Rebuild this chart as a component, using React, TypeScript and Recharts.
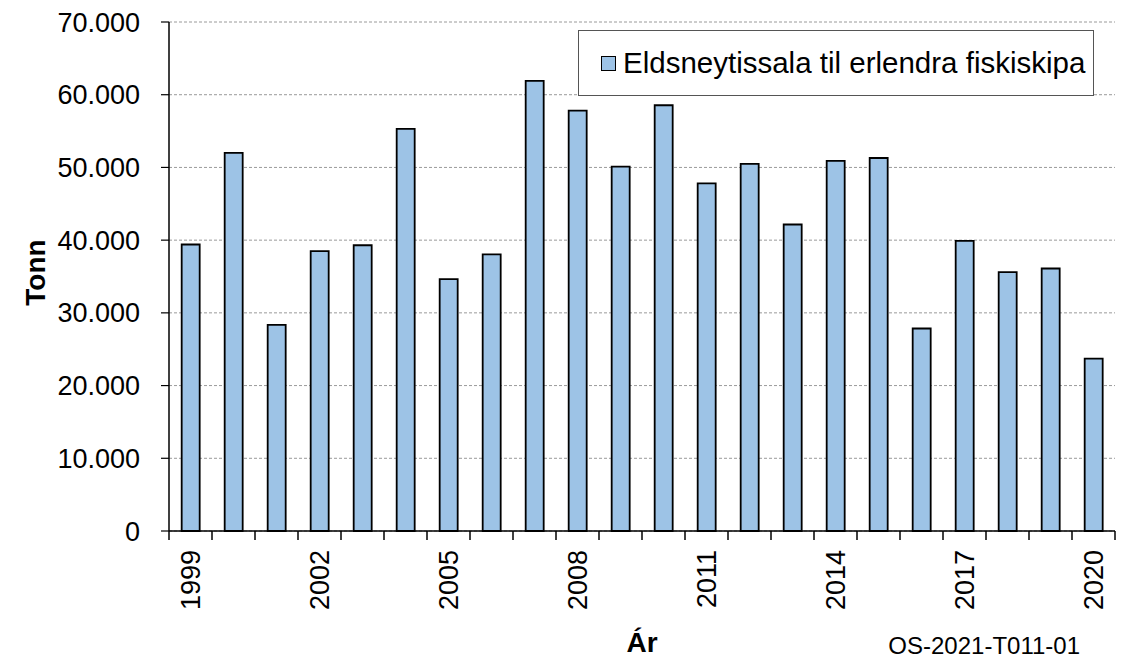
import { Bar, BarChart, CartesianGrid, XAxis, YAxis } from "recharts"

const FONT = "'Liberation Sans', Arial, Helvetica, sans-serif"

const years = [
  "1999", "2000", "2001", "2002", "2003", "2004", "2005", "2006", "2007", "2008", "2009",
  "2010", "2011", "2012", "2013", "2014", "2015", "2016", "2017", "2018", "2019", "2020",
]

const tonnes = [
  39400, 52000, 28350, 38500, 39300, 55300, 34650, 38050, 61900, 57800, 50100,
  58550, 47800, 50500, 42150, 50900, 51300, 27850, 39900, 35600, 36100, 23700,
]

const yTicks = [0, 10000, 20000, 30000, 40000, 50000, 60000, 70000]

const seriesName = "Eldsneytissala til erlendra fiskiskipa"
const xTitle = "Ár"
const yTitle = "Tonn"
const footnote = "OS-2021-T011-01"

const data = years.map((year, i) => ({ year, tonn: tonnes[i] }))

const fmt = (v: number) => String(v).replace(/\B(?=(\d{3})+(?!\d))/g, ".")

// tick marks sit between the categories, labels on every third year
function YearTick({ x, y, payload, index }: any) {
  const half = payload.offset || 0
  const showLabel = index % 3 === 0
  const ly = y + 19
  return (
    <g>
      <line x1={x - half} x2={x - half} y1={y} y2={y + 9} stroke="#000" strokeWidth={1.5} />
      {index === years.length - 1 && (
        <line x1={x + half} x2={x + half} y1={y} y2={y + 9} stroke="#000" strokeWidth={1.5} />
      )}
      {showLabel && (
        <text
          x={x}
          y={ly}
          dy="0.355em"
          textAnchor="end"
          transform={`rotate(-90, ${x}, ${ly})`}
          fontSize={27}
          fontFamily={FONT}
          fill="#000"
        >
          {payload.value}
        </text>
      )}
    </g>
  )
}

function YTitle({ viewBox }: any) {
  const cx = viewBox.x + 35
  const cy = viewBox.y + viewBox.height / 2 - 4
  return (
    <text
      x={cx}
      y={cy}
      dy="0.355em"
      textAnchor="middle"
      transform={`rotate(-90, ${cx}, ${cy})`}
      fontSize={28}
      fontWeight="bold"
      fontFamily={FONT}
      fill="#000"
    >
      {yTitle}
    </text>
  )
}

function XTitle({ viewBox }: any) {
  return (
    <text
      x={viewBox.x + viewBox.width / 2}
      y={viewBox.y + 121}
      textAnchor="middle"
      fontSize={28}
      fontWeight="bold"
      fontFamily={FONT}
      fill="#000"
    >
      {xTitle}
    </text>
  )
}

export default function App() {
  return (
    <div style={{ position: "absolute", left: 0, top: 0, width: 1127, height: 660, background: "#fff", fontFamily: FONT }}>
      <BarChart
        width={1127}
        height={660}
        data={data}
        margin={{ top: 22, right: 12, left: 0, bottom: 0 }}
        barCategoryGap="29.5%"
      >
        <CartesianGrid vertical={false} stroke="#9a9a9a" strokeDasharray="3 2" />
        <XAxis
          dataKey="year"
          height={129}
          interval={0}
          tickLine={false}
          tickSize={0}
          tickMargin={0}
          tick={<YearTick />}
          axisLine={{ stroke: "#000", strokeWidth: 1.5 }}
          label={(props: any) => <XTitle {...props} />}
        />
        <YAxis
          width={169}
          domain={[0, 70000]}
          ticks={yTicks}
          tickFormatter={fmt}
          tickSize={8}
          tickMargin={21}
          tick={{ fontSize: 27, fill: "#000", fontFamily: FONT }}
          tickLine={{ stroke: "#000", strokeWidth: 1.2 }}
          axisLine={{ stroke: "#000", strokeWidth: 1.5 }}
          label={(props: any) => <YTitle {...props} />}
        />
        <Bar dataKey="tonn" name={seriesName} fill="#9DC3E6" stroke="#000" strokeWidth={1.8} isAnimationActive={false} />
      </BarChart>

      <div
        style={{
          position: "absolute",
          left: 578,
          top: 30,
          width: 516,
          height: 66,
          boxSizing: "border-box",
          border: "1.5px solid #555",
          background: "#fff",
          display: "flex",
          alignItems: "center",
          paddingLeft: 22,
        }}
      >
        <span
          style={{
            width: 15,
            height: 15,
            boxSizing: "border-box",
            background: "#9DC3E6",
            border: "1.5px solid #000",
            marginRight: 7,
            flex: "none",
          }}
        />
        <span style={{ fontSize: 29.5, color: "#000", whiteSpace: "nowrap", lineHeight: 1 }}>{seriesName}</span>
      </div>

      <svg width={1127} height={660} style={{ position: "absolute", left: 0, top: 0, pointerEvents: "none" }}>
        <text x={1080} y={654} textAnchor="end" fontSize={24} fontFamily={FONT} fill="#000">
          {footnote}
        </text>
      </svg>
    </div>
  )
}
